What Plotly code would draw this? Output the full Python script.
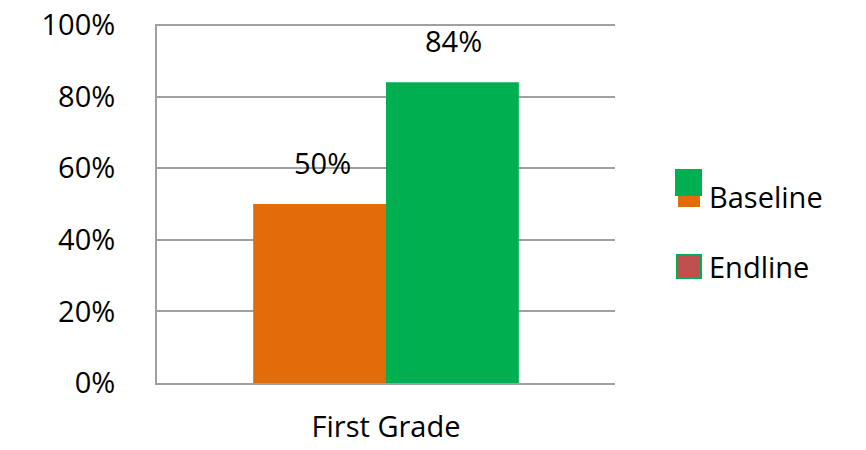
import plotly.graph_objects as go

# Share of first-grade students, baseline vs endline
categories = ["First Grade"]
series_names = ["Baseline", "Endline"]
baseline_values = [0.50]
endline_values = [0.84]
y_ticks = [0, 0.2, 0.4, 0.6, 0.8, 1.0]
y_tick_labels = ["0%", "20%", "40%", "60%", "80%", "100%"]

ORANGE = "#E36C0A"
GREEN = "#00B050"
RED = "#C0504D"
GRID = "#A0A0A0"
FONT = "Open Sans"
TEXT = "#000000"
FS = 29

# plot-area pixel bounds used to place the legend swatches
PX0, PX1, PY0, PY1 = 157, 615, 24, 383

fig = go.Figure()
fig.add_trace(go.Bar(name=series_names[0], x=categories, y=baseline_values,
                     marker=dict(color=ORANGE, line=dict(width=0)), showlegend=False))
fig.add_trace(go.Bar(name=series_names[1], x=categories, y=endline_values,
                     marker=dict(color=GREEN, line=dict(width=0)), showlegend=False))

# value labels above each bar
offsets = [-64, 67]
for vals, dx in zip([baseline_values, endline_values], offsets):
    for c, v in zip(categories, vals):
        fig.add_annotation(x=c, y=v, xref="x", yref="y", text=f"{v:.0%}",
                           showarrow=False, xshift=dx, yanchor="bottom", yshift=20,
                           font=dict(family=FONT, size=FS, color=TEXT))

# hand-drawn legend
legend_shapes = [
    dict(x0=679, x1=699, y0=193, y1=206, color=ORANGE, line=ORANGE),
    dict(x0=676, x1=701, y0=170, y1=195, color=GREEN, line=GREEN),
    dict(x0=677, x1=701, y0=255, y1=278, color=RED, line=GREEN),
]
for s in legend_shapes:
    fig.add_shape(type="rect", xref="paper", yref="paper",
                  x0=(s["x0"] - PX0) / (PX1 - PX0), x1=(s["x1"] - PX0) / (PX1 - PX0),
                  y0=(PY1 - s["y1"]) / (PY1 - PY0), y1=(PY1 - s["y0"]) / (PY1 - PY0),
                  fillcolor=s["color"], line=dict(color=s["line"], width=2))
for name, ypix in zip(series_names, [196, 266]):
    fig.add_annotation(xref="paper", yref="paper",
                       x=(707 - PX0) / (PX1 - PX0), y=(PY1 - ypix) / (PY1 - PY0),
                       xanchor="left", yanchor="middle", text=name, showarrow=False,
                       font=dict(family=FONT, size=FS, color=TEXT))

fig.update_layout(
    width=866, height=450,
    margin=dict(l=PX0, r=866 - PX1, t=PY0, b=450 - PY1, autoexpand=False),
    paper_bgcolor="white", plot_bgcolor="white",
    barmode="group", bargap=0.42, bargroupgap=0,
    showlegend=False,
    font=dict(family=FONT, size=FS, color=TEXT),
)
fig.update_yaxes(range=[0, 1.003], tickvals=y_ticks, ticktext=y_tick_labels,
                 showgrid=True, gridcolor=GRID, gridwidth=2,
                 showline=True, linecolor=GRID, linewidth=2,
                 ticks="", ticklabelstandoff=34, zeroline=False, automargin=False,
                 tickfont=dict(family=FONT, size=FS, color=TEXT))
fig.update_xaxes(showline=True, linecolor=GRID, linewidth=2, ticks="",
                 ticklabelstandoff=17, automargin=False,
                 tickfont=dict(family=FONT, size=FS, color=TEXT))

fig.write_html("out.html")
